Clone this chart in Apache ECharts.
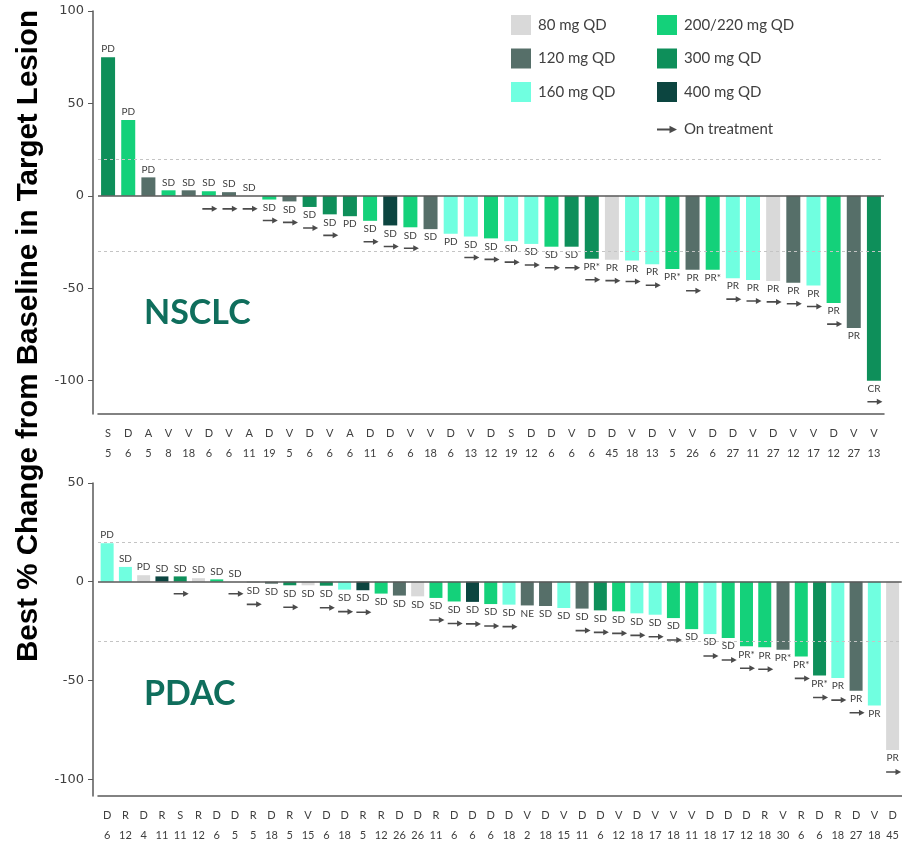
<!DOCTYPE html>
<html><head><meta charset="utf-8">
<script src="https://cdn.jsdelivr.net/npm/echarts@6/dist/echarts.min.js"></script>
<style>html,body{margin:0;padding:0;background:#fff}#c{width:902px;height:847px}</style>
</head><body><div id="c"></div>
<script>
// Dose groups
const doseNames = ['80 mg QD','120 mg QD','160 mg QD','200/220 mg QD','300 mg QD','400 mg QD'];
const doseColors = ['#d9d9d9','#566f69','#70ffe0','#14d17a','#0e8f5a','#0c4540'];

// NSCLC panel
const nsclcSite  = ['S','D','A','V','V','D','V','A','D','V','D','V','A','D','D','V','V','D','V','D','S','D','D','V','D','D','V','D','V','V','D','D','V','D','V','V','D','V','V'];
const nsclcCycle = [5,6,5,8,18,6,6,11,19,5,6,6,6,11,6,6,18,6,13,12,19,12,6,6,6,45,18,13,5,26,6,27,11,27,12,17,12,27,13];
const nsclcChange = [75,41,10,3,3,2.5,2,0,-2,-3,-6,-10,-11,-13.5,-16,-17,-18,-20.5,-22,-23,-24.5,-26,-27.5,-27.5,-34,-34.5,-35,-37,-39.5,-40,-40,-44.5,-45.5,-46,-47,-48.5,-58,-71.5,-100];
const nsclcDose = [4,3,1,3,1,3,1,1,3,1,4,4,4,3,5,3,1,2,2,3,2,2,3,4,4,0,2,2,3,1,3,2,2,0,1,2,3,1,4];
const nsclcResp = ['PD','PD','PD','SD','SD','SD','SD','SD','SD','SD','SD','SD','PD','SD','SD','SD','SD','PD','SD','SD','SD','SD','SD','SD','PR*','PR','PR','PR','PR*','PR','PR*','PR','PR','PR','PR','PR','PR','PR','CR'];
const nsclcOnTx = [0,0,0,0,0,1,1,1,1,1, 1,1,0,1,1,1,0,0,1,1, 1,1,1,1,1,1,1,1,0,1, 0,1,1,1,1,1,1,0,1];

// PDAC panel
const pdacSite  = ['D','R','D','R','S','R','D','D','R','D','R','V','D','D','R','R','D','D','R','D','D','D','D','V','D','V','D','D','V','D','V','V','V','D','D','D','R','V','R','D','R','D','V','D'];
const pdacCycle = [6,12,4,11,11,12,6,5,5,18,5,15,6,18,5,12,26,26,11,6,6,6,18,2,18,15,11,6,12,18,17,18,11,18,17,12,18,30,6,6,18,27,18,45];
const pdacChange = [19.5,7.5,3.3,2.7,2.7,1.8,1.2,0,-0.3,-1,-1.8,-1.8,-2,-4,-4.3,-6,-7,-7.4,-8.2,-10,-10.2,-11.3,-11.6,-12,-12.3,-13.3,-13.6,-14.5,-15,-16,-16.7,-18.4,-24,-26.5,-28.5,-32.7,-33.2,-34.4,-37.8,-47.5,-48.8,-55.2,-62.7,-85.2];
const pdacDose = [2,2,0,5,4,0,3,1,1,1,4,0,4,2,5,3,1,0,3,3,5,3,2,1,1,2,1,4,3,2,2,3,3,2,3,3,3,1,3,4,2,1,2,0];
const pdacResp = ['PD','SD','PD','SD','SD','SD','SD','SD','SD','SD','SD','SD','SD','SD','SD','SD','SD','SD','SD','SD','SD','SD','SD','NE','SD','SD','SD','SD','SD','SD','SD','SD','SD','SD','SD','PR*','PR','PR*','PR*','PR*','PR','PR','PR','PR'];
const pdacOnTx = [0,0,0,0,1,0,0,1,1,0, 1,0,1,1,1,0,0,0,1,1, 1,1,1,0,0,0,1,1,1,1, 1,1,0,1,1,1,1,0,1,1, 1,1,0,1];

const yTicksTop = [-100,-50,0,50,100];
const yTicksBottom = [-100,-50,0,50];

const ARROW = 'path://M0,2.2L10,2.2L10,0L16,3L10,6L10,3.8L0,3.8Z';
const TXT = '#404040';
const AXIS = '#595959';

const panels = [
  {site: nsclcSite, cycle: nsclcCycle, change: nsclcChange, dose: nsclcDose, resp: nsclcResp, onTx: nsclcOnTx, barW: 14, off: 21, offPos: 13},
  {site: pdacSite, cycle: pdacCycle, change: pdacChange, dose: pdacDose, resp: pdacResp, onTx: pdacOnTx, barW: 13, off: 22, offPos: 12}
];

const series = [];
panels.forEach((p, g) => {
  doseNames.forEach((name, d) => {
    const s = {
      type: 'bar', name: name, xAxisIndex: g, yAxisIndex: g,
      barWidth: p.barW, barGap: '-100%',
      itemStyle: {color: doseColors[d]},
      label: {
        show: true, position: 'outside', distance: 3,
        formatter: (prm) => p.resp[prm.dataIndex],
        fontFamily: 'Lato', fontSize: 10, color: TXT
      },
      data: p.change.map((v, i) => p.dose[i] === d ? (v === 0 ? {value: 0, label: {position: 'top'}} : v) : '-')
    };
    if (d === 0) {
      s.markLine = {
        silent: true, symbol: 'none', label: {show: false},
        data: [
          {yAxis: 0, lineStyle: {color: AXIS, width: 1.5, type: 'solid'}},
          {yAxis: 20, lineStyle: {color: '#c4c4c4', width: 1, type: [3, 3]}},
          {yAxis: -30, lineStyle: {color: '#c4c4c4', width: 1, type: [3, 3]}}
        ]
      };
    }
    series.push(s);
  });
  series.push({
    type: 'scatter', name: 'On treatment', xAxisIndex: g, yAxisIndex: g,
    symbol: ARROW, symbolSize: [15, 6], itemStyle: {color: '#1e1e1e'}, z: 5,
    data: p.change.map((v, i) => p.onTx[i] ? {value: [i, Math.min(v, 0)], symbolOffset: [1, v < 0 ? p.off : p.offPos]} : null).filter(Boolean)
  });
});

const xAxisBase = (p, g) => ({
  type: 'category', gridIndex: g,
  data: p.site.map((s, i) => s + '\n' + p.cycle[i]),
  axisLine: {show: true, onZero: false, lineStyle: {color: AXIS, width: 1.5}},
  axisTick: {show: false},
  axisLabel: {interval: 0, margin: 9, fontFamily: 'Lato', fontSize: 11, lineHeight: 20, color: TXT}
});
const yAxisBase = (g, min, max, ticks) => ({
  type: 'value', gridIndex: g, min: min, max: max, offset: 5,
  splitLine: {show: false},
  axisLine: {show: true, lineStyle: {color: AXIS, width: 1.5}},
  axisTick: {show: true, length: 5, customValues: ticks, lineStyle: {color: AXIS}},
  axisLabel: {customValues: ticks, margin: 9, fontFamily: 'DejaVu Sans', fontSize: 13, color: TXT}
});

const legendText = {fontFamily: 'Lato', fontSize: 15, color: TXT, padding: [0, 0, 0, 2]};
const option = {
  animation: false,
  backgroundColor: '#fff',
  title: [
    {text: 'NSCLC', left: 139, top: 291, textStyle: {fontFamily: 'Lato', fontSize: 34, fontWeight: 'bold', color: '#0f6e5c'}},
    {text: 'PDAC', left: 139, top: 672, textStyle: {fontFamily: 'Lato', fontSize: 34, fontWeight: 'bold', color: '#0f6e5c'}}
  ],
  legend: [
    {data: doseNames.slice(0, 3), left: 506, top: 10, orient: 'vertical', icon: 'rect', itemWidth: 20, itemHeight: 20, itemGap: 13.5, selectedMode: false, textStyle: legendText},
    {data: doseNames.slice(3), left: 652, top: 10, orient: 'vertical', icon: 'rect', itemWidth: 20, itemHeight: 20, itemGap: 13.5, selectedMode: false, textStyle: legendText},
    {data: [{name: 'On treatment', icon: ARROW}], left: 652, top: 117, itemWidth: 20, itemHeight: 20, selectedMode: false, textStyle: legendText}
  ],
  grid: [
    {left: 98, top: 11, width: 786, height: 403},
    {left: 98, top: 483, width: 804, height: 313}
  ],
  xAxis: [xAxisBase(panels[0], 0), xAxisBase(panels[1], 1)],
  yAxis: [yAxisBase(0, -118, 100, yTicksTop), yAxisBase(1, -108.5, 50, yTicksBottom)],
  graphic: [{
    type: 'text', x: 29, y: 336, rotation: Math.PI / 2,
    style: {text: 'Best % Change from Baseline in Target Lesion', font: 'bold 29.5px "Liberation Sans Narrow", "Liberation Sans", sans-serif', fill: '#000', align: 'center', verticalAlign: 'middle'}
  }],
  series: series
};
const chart = echarts.init(document.getElementById('c'), null, {renderer: 'canvas'});
chart.setOption(option);
</script>
</body></html>
